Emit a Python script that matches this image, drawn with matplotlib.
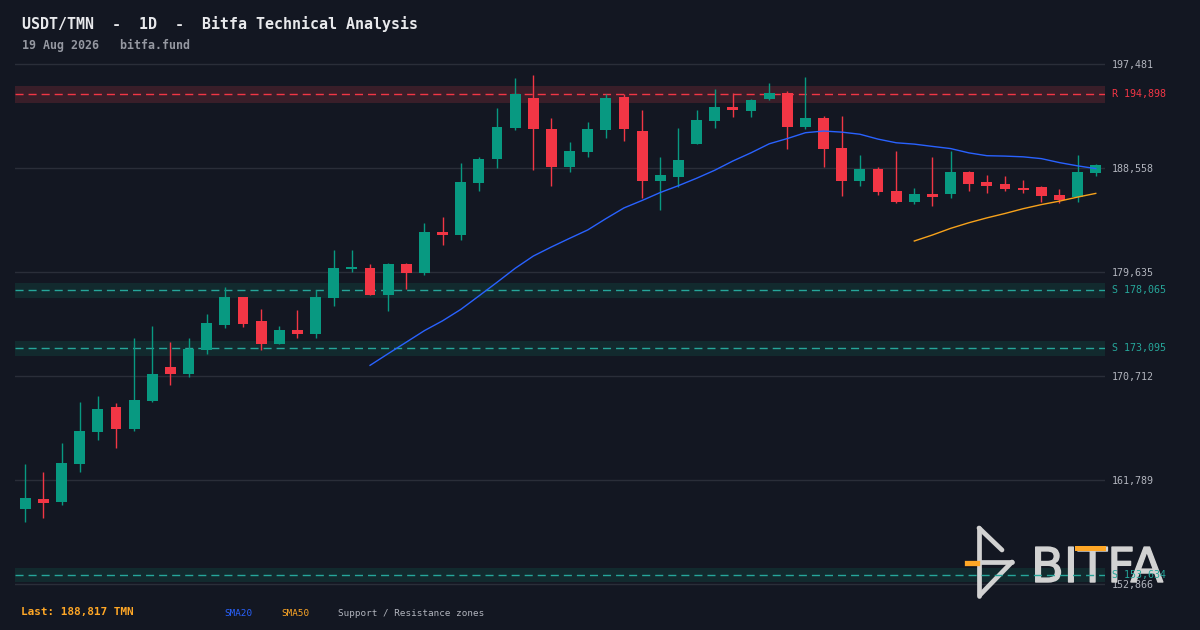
import numpy as np, pandas as pd
import matplotlib
matplotlib.use('Agg')
from matplotlib import pyplot as plt
from matplotlib.lines import Line2D
from matplotlib.patches import Rectangle
import matplotlib.transforms as mtrans
import matplotlib.patheffects as pe

# daily candles, USDT/TMN
opens = [159326, 160158, 159926, 163187, 165932, 168051, 166190, 168592, 171483, 170909,
         172968, 175113, 177489, 175430, 173483, 174658, 174341, 177429, 179892, 179978,
         177687, 180321, 179574, 183066, 182835, 187296, 189356, 192015, 194564, 191904,
         188669, 189956, 191844, 194649, 191732, 187468, 187811, 190643, 192616, 193791,
         193474, 194504, 194993, 192101, 192848, 190274, 187468, 188472, 186584, 185666,
         186327, 186353, 188214, 187356, 187185, 186842, 186927, 186241, 186095, 188154]
highs = [163161, 162474, 164963, 168480, 168995, 168395, 173972, 175001, 173628, 173972,
         176031, 178347, 177489, 176460, 175001, 176374, 178090, 181522, 181522, 180321,
         180407, 180407, 183839, 184353, 188987, 189501, 193706, 196280, 196537, 192848,
         190788, 192504, 194907, 194907, 193534, 189501, 191990, 193534, 195336, 194993,
         194478, 195851, 195164, 196365, 193019, 193019, 189673, 188643, 190016, 186842,
         189501, 190016, 188300, 187957, 187871, 187528, 187013, 186756, 189673, 188901]
lows = [158210, 158553, 159669, 162500, 165246, 164559, 166018, 168506, 169965, 170651,
        172625, 174855, 174941, 172968, 173483, 173997, 173997, 176743, 179660, 177687,
        176314, 178202, 179403, 181977, 182406, 186610, 188583, 191844, 188412, 187039,
        188240, 189527, 191157, 190900, 186009, 184980, 186953, 190643, 192015, 192959,
        192959, 194418, 190214, 191930, 188669, 186181, 187039, 186267, 185580, 185495,
        185323, 186009, 186610, 186438, 186610, 186438, 185666, 185580, 185666, 187897]
closes = [160244, 159840, 163247, 165992, 167880, 166190, 168652, 170883, 170909, 173028,
          175259, 177489, 175199, 173483, 174658, 174341, 177489, 179978, 180063, 177687,
          180321, 179574, 183066, 182835, 187356, 189330, 192075, 194907, 191930, 188669,
          190016, 191904, 194564, 191930, 187468, 187957, 189244, 192676, 193791, 193560,
          194392, 194993, 192101, 192848, 190214, 187468, 188472, 186524, 185666, 186327,
          186095, 188214, 187211, 187039, 186782, 186696, 186181, 185838, 188214, 188817]

res_levels = [194898]
sup_levels = [178065, 173095, 153634]
zone_pct = 0.0037
price_ticks = [197481, 188558, 179635, 170712, 161789, 152866]
last_price = 188817

BG = '#131722'
GREEN = '#089981'
RED = '#f23645'
TEAL = '#26a69a'
BLUE = '#2962ff'
ORANGE = '#ffa726'
TXT = '#b2b5be'

plt.rcParams['font.family'] = ['DejaVu Sans Mono']

W, H = 1200, 630
fig = plt.figure(figsize=(12, 6.3), dpi=100, facecolor=BG)
def fx(x): return x / W
def fy(y): return 1 - y / H

ax = fig.add_axes([fx(15), fy(595), 1090 / W, 540 / H])
ax.set_facecolor(BG)
for s in ax.spines.values(): s.set_visible(False)

x = np.arange(len(closes))
o = np.array(opens); c = np.array(closes)
cols = [GREEN if cc >= oo else RED for oo, cc in zip(o, c)]

# zones + levels
blend = mtrans.blended_transform_factory(ax.transAxes, ax.transData)
for lv in res_levels:
    ax.axhspan(lv * (1 - zone_pct), lv * (1 + zone_pct), color='#391e29', lw=0, zorder=0.5)
    ax.axhline(lv, color=RED, lw=1, ls=(0, (5.8, 3.6)), zorder=1)
    ax.text(1.0064, lv, f'R {lv:,}', transform=blend, color=RED, va='center', ha='left', fontsize=7.2)
for lv in sup_levels:
    ax.axhspan(lv * (1 - zone_pct), lv * (1 + zone_pct), color='#122a2e', lw=0, zorder=0.5)
    ax.axhline(lv, color=TEAL, lw=1, ls=(0, (5.8, 3.6)), zorder=1)
    ax.text(1.0064, lv, f'S {lv:,}', transform=blend, color=TEAL, va='center', ha='left', fontsize=7.2)

# candles
ax.vlines(x, lows, highs, colors=cols, lw=1, zorder=2)
ax.bar(x, np.abs(c - o), bottom=np.minimum(o, c), width=0.6, color=cols, lw=0, zorder=3)

# moving averages
sma20 = pd.Series(closes).rolling(20).mean()
sma50 = pd.Series(closes).rolling(50).mean()
ax.plot(x, sma20, color=BLUE, lw=1, zorder=4)
ax.plot(x, sma50, color='#f7a21b', lw=1, zorder=4)

ax.set_xlim(-0.57, 59.51)
ax.set_ylim(151921, 198253)
ax.set_xticks([])
ax.yaxis.tick_right()
ax.set_yticks(price_ticks)
ax.set_yticklabels([f'{t:,}' for t in price_ticks])
ax.tick_params(axis='y', length=0, pad=5, labelcolor=TXT, labelsize=7.2)
ax.grid(axis='y', color='#2a2e39', lw=1, zorder=0)
ax.set_axisbelow(True)

# header
fig.text(fx(22), fy(24), 'USDT/TMN  -  1D  -  Bitfa Technical Analysis', color='#e8e9ec',
         fontsize=10.8, fontweight='bold', va='center', ha='left')
fig.text(fx(22), fy(45), '19 Aug 2026   bitfa.fund', color='#9598a1', fontsize=8.4,
         fontweight='bold', va='center', ha='left')

# footer legend
fig.text(fx(21), fy(612), f'Last: {last_price:,} TMN', color=ORANGE, fontsize=7.9,
         fontweight='bold', va='center', ha='left')
fig.text(fx(224), fy(614), 'SMA20', color=BLUE, fontsize=6.7, va='center', ha='left')
fig.text(fx(281), fy(614), 'SMA50', color=ORANGE, fontsize=6.7, va='center', ha='left')
fig.text(fx(338), fy(614), 'Support / Resistance zones', color=TXT, fontsize=6.7,
         va='center', ha='left')

# bitfa logo watermark, under the level lines and labels
LOGO = '#d2d2d2'
tf = fig.transFigure
segs = [[(979, 528), (979, 596)], [(979, 528), (1002, 550)],
        [(980, 562), (1012, 562)], [(1012, 562), (980, 595)]]
for sg in segs:
    ax.add_artist(Line2D([fx(p[0]) for p in sg], [fy(p[1]) for p in sg], color=LOGO,
                         lw=3.4, solid_capstyle='round', transform=tf, clip_on=False, zorder=0.8))
ax.add_artist(Line2D([fx(967), fx(977)], [fy(562.5), fy(562.5)], color=ORANGE, lw=3.8,
                     transform=tf, clip_on=False, zorder=0.8))
ax.text(fx(1031), fy(582), 'BITFA', color=LOGO, fontsize=34.5, family='DejaVu Sans',
        va='baseline', ha='left', transform=tf, clip_on=False, zorder=0.8,
        path_effects=[pe.withStroke(linewidth=1.0, foreground=LOGO)])
ax.add_artist(Rectangle((fx(1075), fy(550.5)), 31 / W, 5 / H, color=ORANGE, lw=0,
                        transform=tf, clip_on=False, zorder=0.85))

fig.savefig('out.png', dpi=100, facecolor=BG)
